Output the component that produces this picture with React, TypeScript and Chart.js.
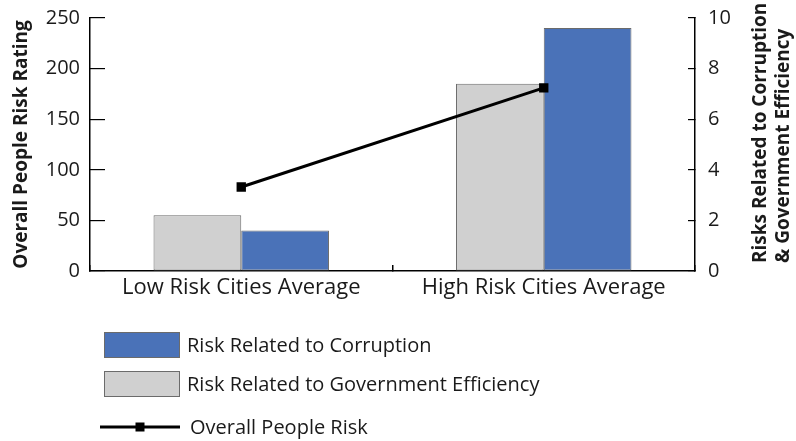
import { useEffect, useRef } from 'react';
import { Chart, registerables } from 'chart.js';

Chart.register(...registerables);

// Chart data
const categories = ['Low Risk Cities Average', 'High Risk Cities Average'];
const corruptionRisk = [1.6, 9.6];
const governmentEfficiencyRisk = [2.2, 7.4];
const overallPeopleRisk = [83, 181];

const leftAxisTitle = 'Overall People Risk Rating';
const rightAxisTitle = ['Risks Related to Corruption', '& Government Efficiency'];
const corruptionLabel = 'Risk Related to Corruption';
const efficiencyLabel = 'Risk Related to Government Efficiency';
const overallLabel = 'Overall People Risk';

const FONT = "'Open Sans', 'Noto Sans', sans-serif";
const TEXT = '#1a1a1a';
const BLUE = '#4a72b8';
const GREY = '#d0d0d0';
const EDGE = '#6b6b6b';

// Draws the right-hand axis title (reading bottom-to-top) and the stacked legend.
const overlayPlugin = {
  id: 'overlay',
  afterDraw(chart: any) {
    const ctx = chart.ctx as CanvasRenderingContext2D;
    const area = chart.chartArea;
    const right = chart.scales.y1;

    ctx.save();
    ctx.fillStyle = TEXT;
    ctx.font = `bold 19px ${FONT}`;
    ctx.textAlign = 'left';
    ctx.textBaseline = 'middle';
    rightAxisTitle.forEach((line, i) => {
      ctx.save();
      ctx.translate(right.left + 66 + i * 23, area.bottom - 8);
      ctx.rotate(-Math.PI / 2);
      ctx.fillText(line, 0, 0);
      ctx.restore();
    });
    ctx.restore();

    // Legend
    const datasets = chart.data.datasets;
    const byLabel = (l: string) => datasets.find((d: any) => d.label === l);
    const boxX = 104;
    const boxW = 76;
    const boxH = 26;
    const textX = 187;
    const top = area.bottom + 61;
    const rows = [corruptionLabel, efficiencyLabel];
    ctx.save();
    ctx.font = `20px ${FONT}`;
    ctx.textBaseline = 'middle';
    ctx.textAlign = 'left';
    rows.forEach((label, i) => {
      const ds: any = byLabel(label);
      const y = top + i * 39;
      ctx.fillStyle = ds.backgroundColor;
      ctx.fillRect(boxX, y, boxW, boxH);
      ctx.strokeStyle = ds.borderColor;
      ctx.lineWidth = 1;
      ctx.strokeRect(boxX + 0.5, y + 0.5, boxW - 1, boxH - 1);
      ctx.fillStyle = TEXT;
      ctx.fillText(label, textX, y + boxH / 2 + 1);
    });
    const lineDs: any = byLabel(overallLabel);
    const ly = top + 2 * 39 + 17;
    ctx.strokeStyle = lineDs.borderColor;
    ctx.lineWidth = lineDs.borderWidth;
    ctx.beginPath();
    ctx.moveTo(100, ly);
    ctx.lineTo(180, ly);
    ctx.stroke();
    ctx.fillStyle = lineDs.pointBackgroundColor;
    ctx.fillRect(140 - 4.5, ly - 4.5, 9, 9);
    ctx.fillStyle = TEXT;
    ctx.fillText(overallLabel, 190, ly + 1);
    ctx.restore();
  },
};

export default function App() {
  const canvasRef = useRef<HTMLCanvasElement | null>(null);

  useEffect(() => {
    const canvas = canvasRef.current;
    if (!canvas) return;
    const chart = new Chart(canvas, {
      type: 'bar',
      data: {
        labels: categories,
        datasets: [
          {
            type: 'line',
            label: overallLabel,
            data: overallPeopleRisk,
            yAxisID: 'y',
            borderColor: '#000000',
            backgroundColor: '#000000',
            pointBackgroundColor: '#000000',
            pointBorderColor: '#000000',
            borderWidth: 3,
            pointStyle: 'rect',
            pointRadius: 4.5,
            tension: 0,
            order: 0,
          } as any,
          {
            type: 'bar',
            label: efficiencyLabel,
            data: governmentEfficiencyRisk,
            yAxisID: 'y1',
            backgroundColor: GREY,
            borderColor: EDGE,
            borderWidth: 1,
            borderSkipped: false,
            categoryPercentage: 0.58,
            barPercentage: 1,
            order: 1,
          },
          {
            type: 'bar',
            label: corruptionLabel,
            data: corruptionRisk,
            yAxisID: 'y1',
            backgroundColor: BLUE,
            borderColor: EDGE,
            borderWidth: 1,
            borderSkipped: false,
            categoryPercentage: 0.58,
            barPercentage: 1,
            order: 1,
          },
        ],
      },
      options: {
        responsive: false,
        animation: false,
        layout: { padding: { top: 18, left: 0, right: 0, bottom: 0 } },
        plugins: {
          legend: { display: false },
          tooltip: { enabled: false },
        },
        scales: {
          x: {
            grid: {
              offset: true,
              drawOnChartArea: false,
              drawTicks: true,
              tickLength: -6,
              color: '#000000',
              lineWidth: 1.5,
            },
            border: { display: true, color: '#000000', width: 1.5 },
            ticks: {
              color: TEXT,
              font: { family: FONT, size: 22 },
              padding: 10,
              maxRotation: 0,
            },
            afterFit: (scale: any) => {
              scale.height = 170;
            },
          },
          y: {
            position: 'left',
            min: 0,
            max: 250,
            ticks: {
              stepSize: 50,
              color: TEXT,
              font: { family: FONT, size: 20 },
              padding: 25,
            },
            grid: {
              drawOnChartArea: false,
              drawTicks: true,
              tickLength: -15,
              color: '#000000',
              lineWidth: 1.2,
            },
            border: { display: true, color: '#000000', width: 1.5 },
            title: {
              display: true,
              text: leftAxisTitle,
              color: TEXT,
              font: { family: FONT, size: 19, weight: 'bold' },
              padding: { top: 10, bottom: 0 },
            },
            afterFit: (scale: any) => {
              scale.width = 90;
              scale.paddingTop = 0;
              scale.paddingBottom = 0;
            },
          },
          y1: {
            position: 'right',
            min: 0,
            max: 10,
            ticks: {
              stepSize: 2,
              color: TEXT,
              font: { family: FONT, size: 20 },
              padding: 20,
            },
            grid: {
              drawOnChartArea: false,
              drawTicks: true,
              tickLength: -7,
              color: '#000000',
              lineWidth: 1.2,
            },
            border: { display: true, color: '#000000', width: 1.5 },
            afterFit: (scale: any) => {
              scale.width = 101;
              scale.paddingTop = 0;
              scale.paddingBottom = 0;
            },
          },
        },
      },
      plugins: [overlayPlugin],
    });
    return () => chart.destroy();
  }, []);

  return (
    <div style={{ position: 'fixed', left: 0, top: 0, width: 796, height: 441, background: '#ffffff' }}>
      <canvas ref={canvasRef} width={796} height={441} />
    </div>
  );
}
